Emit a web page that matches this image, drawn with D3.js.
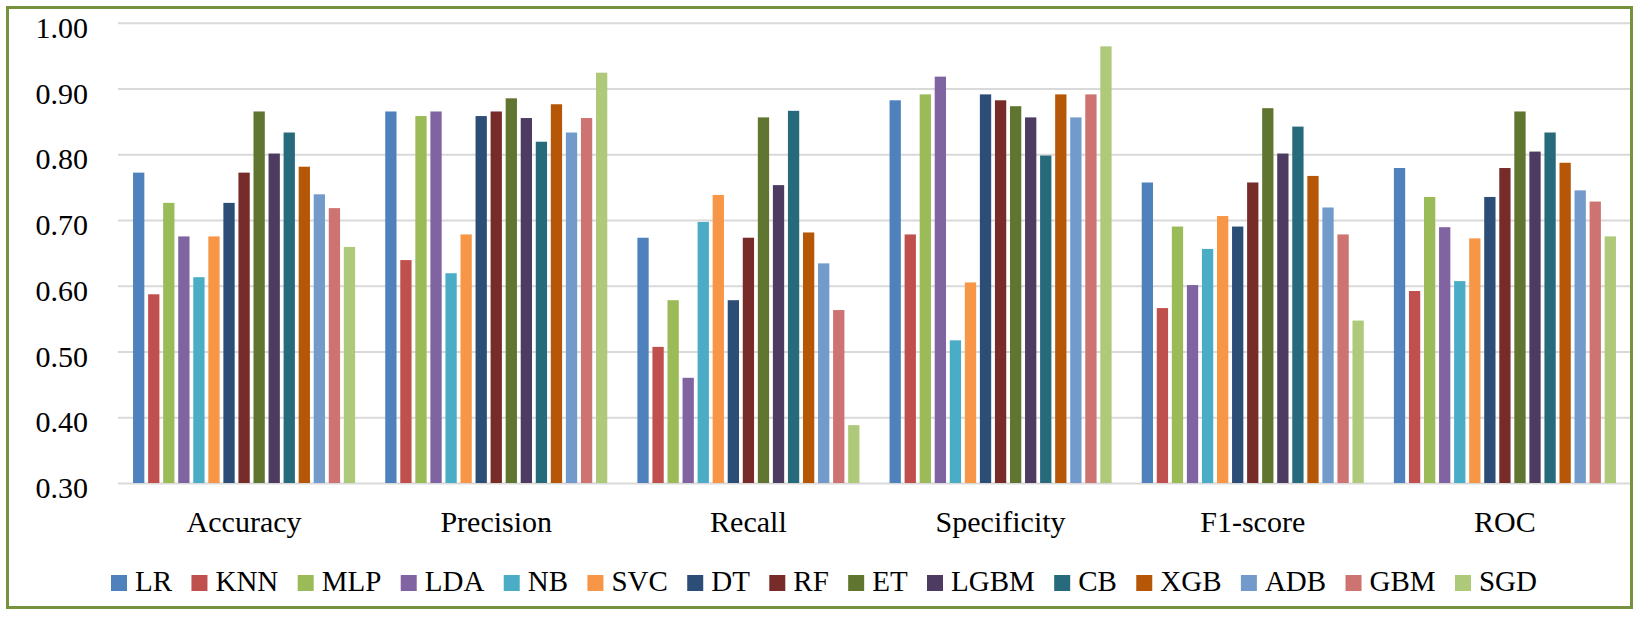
<!DOCTYPE html>
<html>
<head>
<meta charset="utf-8">
<script src="https://cdn.jsdelivr.net/npm/d3@7"></script>
<style>
  body { margin: 0; background: #fff; }
  text { font-family: "Liberation Serif", "DejaVu Serif", serif; fill: #000; }
</style>
</head>
<body>
<div id="chart"></div>
<script>
// metrics on the x axis
const metrics = ["Accuracy", "Precision", "Recall", "Specificity", "F1-score", "ROC"];

// one array per model, values in metric order
const models = ["LR", "KNN", "MLP", "LDA", "NB", "SVC", "DT", "RF", "ET", "LGBM", "CB", "XGB", "ADB", "GBM", "SGD"];
const LR   = [0.772, 0.865, 0.673, 0.882, 0.757, 0.779];
const KNN  = [0.587, 0.639, 0.507, 0.678, 0.566, 0.592];
const MLP  = [0.726, 0.858, 0.578, 0.891, 0.690, 0.735];
const LDA  = [0.675, 0.865, 0.460, 0.918, 0.601, 0.689];
const NB   = [0.613, 0.619, 0.697, 0.517, 0.656, 0.607];
const SVC  = [0.675, 0.678, 0.738, 0.605, 0.706, 0.672];
const DT   = [0.726, 0.858, 0.578, 0.891, 0.690, 0.735];
const RF   = [0.772, 0.865, 0.673, 0.882, 0.757, 0.779];
const ET   = [0.865, 0.885, 0.856, 0.873, 0.870, 0.865];
const LGBM = [0.801, 0.855, 0.753, 0.856, 0.801, 0.804];
const CB   = [0.833, 0.819, 0.866, 0.798, 0.842, 0.833];
const XGB  = [0.781, 0.876, 0.681, 0.891, 0.767, 0.787];
const ADB  = [0.739, 0.833, 0.634, 0.856, 0.719, 0.745];
const GBM  = [0.718, 0.855, 0.563, 0.891, 0.678, 0.728];
const SGD  = [0.659, 0.924, 0.388, 0.964, 0.547, 0.675];
const seriesValues = [LR, KNN, MLP, LDA, NB, SVC, DT, RF, ET, LGBM, CB, XGB, ADB, GBM, SGD];

const yTicks = [0.30, 0.40, 0.50, 0.60, 0.70, 0.80, 0.90, 1.00];

const colors = ["#4F81BD", "#C0504D", "#9BBB59", "#8064A2", "#4BACC6", "#F79646", "#2C4D75",
                "#772C2A", "#5F7530", "#4D3B62", "#276A7C", "#B65708", "#729ACA", "#CD7371", "#AFC97A"];

const width = 1642, height = 618;
const serif = '"Liberation Serif", "DejaVu Serif", serif';

const svg = d3.select("#chart").append("svg")
    .attr("width", width)
    .attr("height", height);

// scales
const x0 = d3.scaleBand().domain(metrics).range([118, 1631]);
const x1 = d3.scaleBand().domain(models).range([0, x0.bandwidth()])
    .paddingInner(0.25).paddingOuter(1.0);
const y = d3.scaleLinear().domain([0.30, 1.00]).range([483, 22.7]);
const color = d3.scaleOrdinal().domain(models).range(colors);

// gridlines + y labels
const yAxis = d3.axisLeft(y)
    .tickValues(yTicks)
    .tickSize(-(x0.range()[1] - x0.range()[0]))
    .tickPadding(30)
    .tickFormat(d3.format(".2f"));

const yG = svg.append("g")
    .attr("transform", `translate(${x0.range()[0]},0)`)
    .call(yAxis)
    .attr("font-family", serif);
yG.select(".domain").remove();
yG.selectAll(".tick line").attr("stroke", "#d9d9d9").attr("stroke-width", 2);
yG.selectAll(".tick text")
    .attr("font-size", 30)
    .attr("dy", 14.6)
    .attr("fill", "#000");

// bars
const rows = [];
metrics.forEach((m, i) => {
  models.forEach((s, j) => rows.push({metric: m, model: s, value: seriesValues[j][i]}));
});

svg.append("g").selectAll("rect")
    .data(rows)
  .join("rect")
    .attr("x", d => x0(d.metric) + x1(d.model))
    .attr("width", x1.bandwidth())
    .attr("y", d => y(d.value))
    .attr("height", d => y(0.30) - y(d.value))
    .attr("fill", d => color(d.model));

// category labels
svg.append("g").selectAll("text")
    .data(metrics)
  .join("text")
    .attr("x", d => x0(d) + x0.bandwidth() / 2)
    .attr("y", 531.7)
    .attr("text-anchor", "middle")
    .attr("font-size", 30)
    .text(d => d);

// legend, spread to the width seen in the reference
const legend = svg.append("g");
const items = legend.selectAll("g")
    .data(models)
  .join("g");
items.append("rect")
    .attr("width", 16).attr("height", 16)
    .attr("y", 575)
    .attr("fill", d => color(d));
items.append("text")
    .attr("x", 24)
    .attr("y", 591)
    .attr("font-size", 29)
    .text(d => d);

const textW = [];
items.select("text").each(function() { textW.push(this.getComputedTextLength()); });
const legendStart = 111, legendEnd = 1537;
const used = d3.sum(textW, w => 24 + w);
const gap = (legendEnd - legendStart - used) / (models.length - 1);
let cx = legendStart;
items.attr("transform", (d, i) => {
  const t = `translate(${cx},0)`;
  cx += 24 + textW[i] + gap;
  return t;
});

// outer frame
svg.append("rect")
    .attr("x", 7.5).attr("y", 7.5)
    .attr("width", 1624).attr("height", 600)
    .attr("fill", "none")
    .attr("stroke", "#76923C")
    .attr("stroke-width", 3);
</script>
</body>
</html>
